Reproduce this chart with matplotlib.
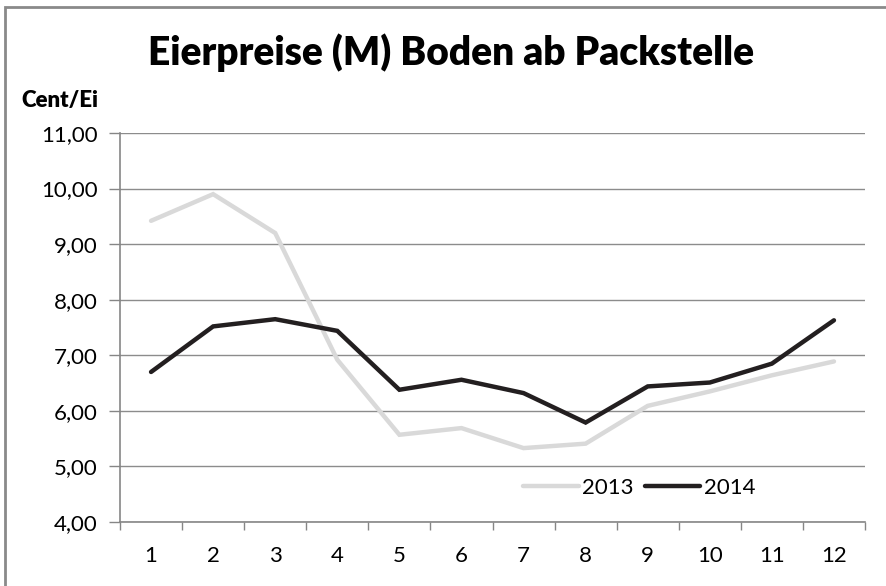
import matplotlib
matplotlib.use("Agg")
import matplotlib.pyplot as plt
from matplotlib.patches import Rectangle
from matplotlib.ticker import FixedLocator, FuncFormatter

# Monate und Preise (Cent/Ei)
monate = list(range(1, 13))
preise_2013 = [9.42, 9.90, 9.20, 6.92, 5.57, 5.69, 5.33, 5.41, 6.09, 6.35, 6.64, 6.89]
preise_2014 = [6.70, 7.52, 7.65, 7.44, 6.38, 6.56, 6.32, 5.79, 6.44, 6.51, 6.85, 7.63]
y_ticks = [4, 5, 6, 7, 8, 9, 10, 11]

plt.rcParams['font.family'] = ['Lato', 'DejaVu Sans']

fig = plt.figure(figsize=(8.87, 5.86), dpi=100)
ax = fig.add_axes([0.1353, 0.1092, 0.8399, 0.6638])

# Rahmen um das Diagramm (rechts/unten abgeschnitten)
fig.patches.append(Rectangle((5.5 / 887, -0.05), 1.2, 1.05 - 7.5 / 586, transform=fig.transFigure,
                             fill=False, edgecolor='#8a8a8a', linewidth=2))

ax.plot(monate, preise_2013, color='#d9d9d9', lw=3.2, label='2013', solid_capstyle='round', solid_joinstyle='miter')
ax.plot(monate, preise_2014, color='#231f20', lw=3.2, label='2014', solid_capstyle='round', solid_joinstyle='miter')

ax.set_xlim(0.5, 12.5)
ax.set_ylim(4, 11)
ax.yaxis.set_major_locator(FixedLocator(y_ticks))
ax.yaxis.set_major_formatter(FuncFormatter(lambda v, p: f"{v:.2f}".replace('.', ',')))
ax.set_xticks(monate)
ax.set_xticks([m + 0.5 for m in range(0, 13)], minor=True)
ax.tick_params(axis='x', which='major', length=0, pad=17, labelsize=16)
ax.tick_params(axis='x', which='minor', length=6, color='#868686', width=1)
ax.tick_params(axis='y', length=8, color='#868686', width=1, labelsize=16, pad=8)

ax.grid(axis='y', color='#8c8c8c', lw=1)
ax.set_axisbelow(True)
for s in ['top', 'right']:
    ax.spines[s].set_visible(False)
for s in ['left', 'bottom']:
    ax.spines[s].set_color('#868686')
    ax.spines[s].set_linewidth(1.2)

fig.text(0.508, 0.91, 'Eierpreise (M) Boden ab Packstelle', ha='center', va='center',
         fontsize=28, fontweight='heavy')
fig.text(0.024, 0.828, 'Cent/Ei', ha='left', va='center', fontsize=16, fontweight='heavy')

ax.legend(loc='center', bbox_to_anchor=(0.697, 0.088), ncol=2, frameon=False, fontsize=16,
          handlelength=2.5, handletextpad=0.15, columnspacing=0.5)

fig.savefig('out.png', dpi=100)
